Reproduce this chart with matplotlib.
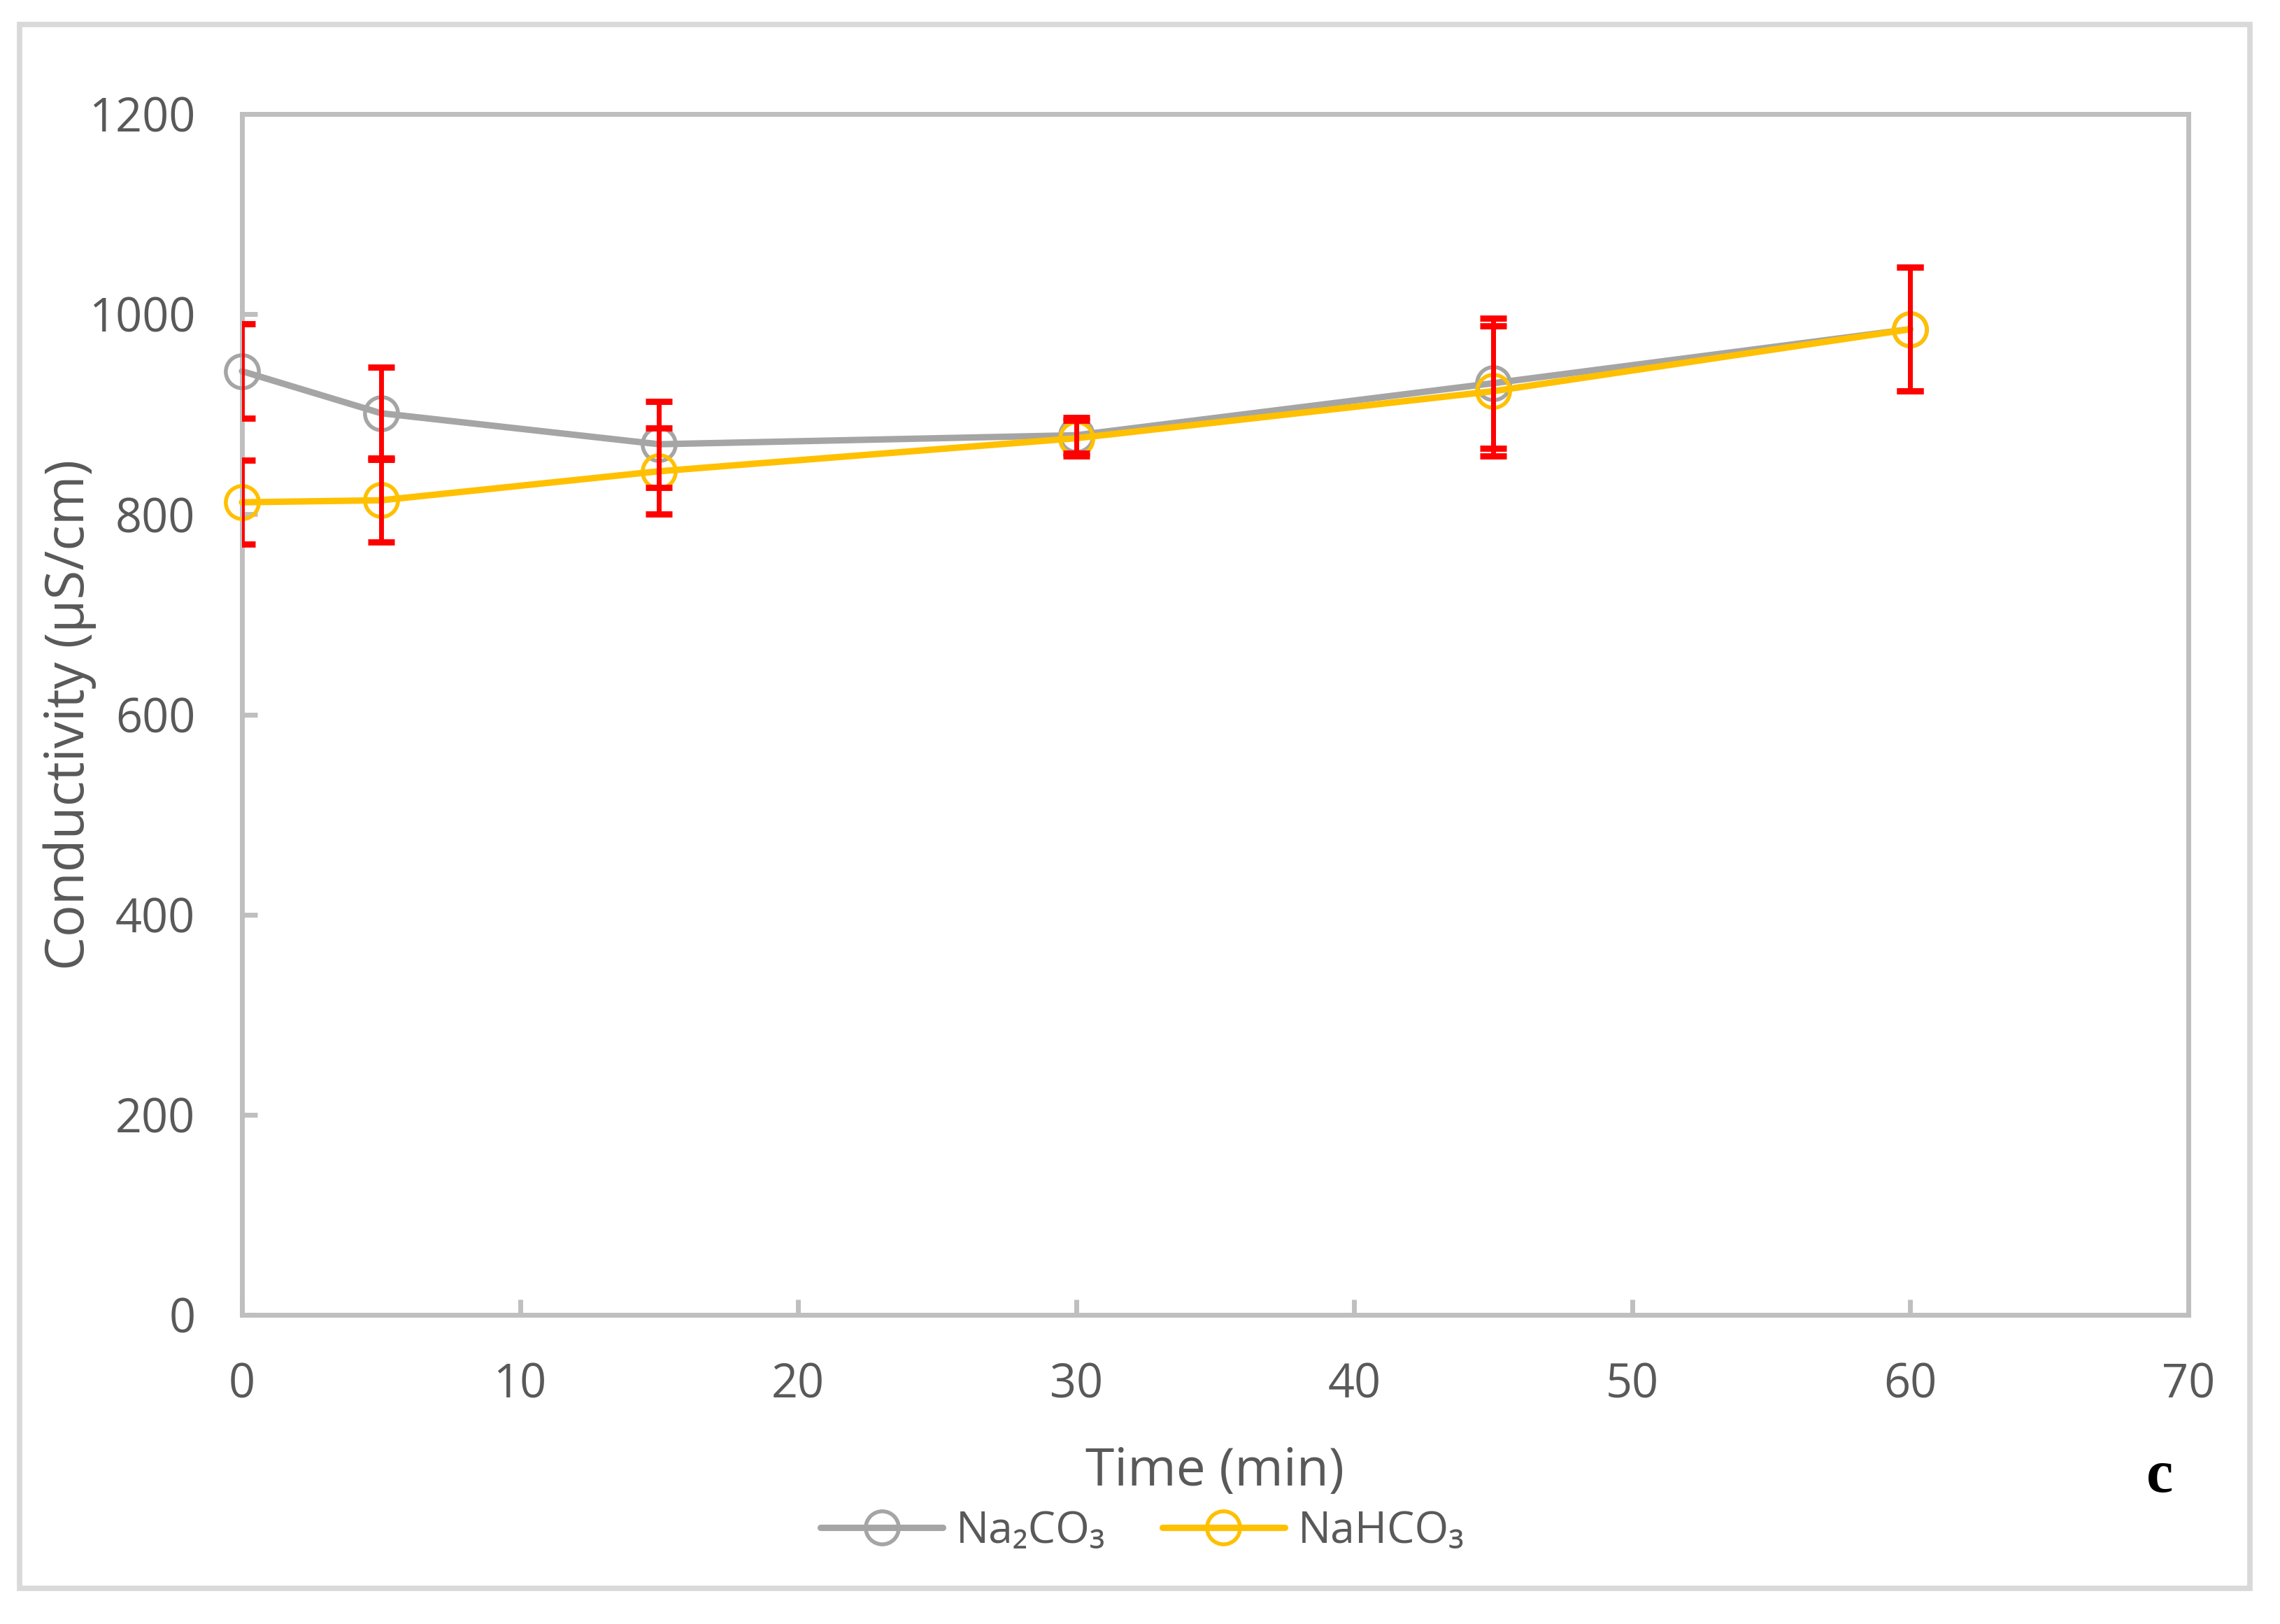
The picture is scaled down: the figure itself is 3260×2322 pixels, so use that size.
import matplotlib
matplotlib.use("Agg")
import matplotlib.pyplot as plt
from matplotlib.patches import Rectangle

# values
time_min = [0, 5, 15, 30, 45, 60]
na2co3 = [943, 901, 870, 879, 931, 985]
na2co3_err = [47, 46, 43, 18, 65, 62]
nahco3 = [812, 814, 843, 876, 923, 985]
nahco3_err = [42, 42, 43, 18, 65, 62]

x_ticks = [0, 10, 20, 30, 40, 50, 60, 70]
y_ticks = [0, 200, 400, 600, 800, 1000, 1200]

plt.rcParams["font.family"] = ["Open Sans", "DejaVu Sans"]
text_color = "#595959"

W, H = 3260, 2322
fig = plt.figure(figsize=(W / 200, H / 200), dpi=200)
ax = fig.add_axes([346 / W, 1 - 1880 / H, (3129 - 346) / W, (1880 - 163) / H])

# outer chart border
fig.patches.append(Rectangle((28 / W, 1 - 2271 / H), (3217 - 28) / W, (2271 - 35) / H,
                             transform=fig.transFigure, fill=False, edgecolor="#D9D9D9", linewidth=2.8))

series = [
    ("Na\u2082CO\u2083", na2co3, na2co3_err, "#A5A5A5"),
    ("NaHCO\u2083", nahco3, nahco3_err, "#FFC000"),
]

for label, vals, errs, color in series:
    ax.plot(time_min, vals, color=color, linewidth=3.3, zorder=3, solid_capstyle="round",
            marker="o", markersize=17, markerfacecolor="none", markeredgecolor=color,
            markeredgewidth=2.0, label=label, clip_on=False)
    ax.errorbar(time_min, vals, yerr=errs, fmt="none", ecolor="#FF0000", elinewidth=2.5,
                capsize=7, capthick=3.2, zorder=4)

ax.set_xlim(0, 70)
ax.set_ylim(0, 1200)
ax.set_xticks(x_ticks)
ax.set_yticks(y_ticks)

for side in ["left", "right", "top", "bottom"]:
    ax.spines[side].set_color("#BFBFBF")
    ax.spines[side].set_linewidth(2.5)

ax.tick_params(axis="both", direction="in", length=8, width=2.5, color="#BFBFBF",
               labelsize=24, labelcolor=text_color)
ax.tick_params(axis="x", pad=24)
ax.tick_params(axis="y", pad=24)

ax.set_xlabel("Time (min)", fontsize=27, color=text_color, labelpad=19)
ax.set_ylabel("Conductivity (\u00b5S/cm)", fontsize=27.5, color=text_color, labelpad=-4)

fig.legend(loc="center", bbox_to_anchor=(0.501, 0.057), ncol=2, frameon=False,
           fontsize=22.5, handlelength=2.8, handletextpad=0.3, columnspacing=1.3,
           labelcolor=text_color)

fig.text(3088 / W, 1 - 2112 / H, "c", family="Liberation Serif", fontweight="bold",
         fontsize=31, color="black", ha="center", va="center")

fig.savefig("out.png", dpi=200, facecolor="white")
